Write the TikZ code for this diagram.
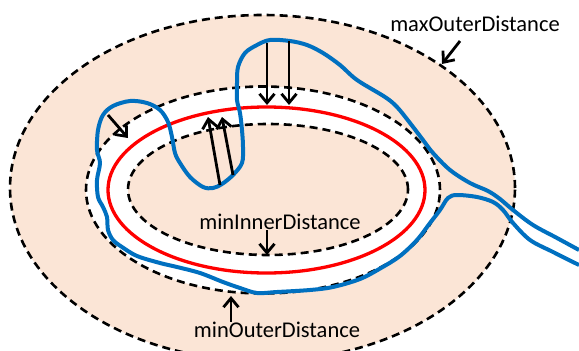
\documentclass[tikz,border=0pt]{standalone}
\usepackage{fontspec}
\setmainfont{Carlito}
\usetikzlibrary{arrows.meta}
\definecolor{peach}{HTML}{FBE5D6}
\definecolor{pathblue}{HTML}{0070C0}

\begin{document}
\begin{tikzpicture}[x=1pt,y=-1pt,
  bound/.style={line width=2.6pt, dash pattern=on 8pt off 5pt},
  gap/.style={line width=2.8pt, -{Straight Barb[length=9pt,width=15pt]}},
  lbl/.style={font=\fontsize{22.5}{27}\selectfont, inner sep=0pt}]
\useasboundingbox (0,0) rectangle (579,351);
% zones
\fill[peach] (262.5,188) ellipse [x radius=252.5pt, y radius=173pt];
\fill[white] (263,190) ellipse [x radius=177pt, y radius=103.5pt];
\fill[peach] (268,189.5) ellipse [x radius=140pt, y radius=65.5pt];
% distance bounds
\draw[bound] (262.5,188) ellipse [x radius=252.5pt, y radius=173pt];
\draw[bound] (263,190) ellipse [x radius=177pt, y radius=103.5pt];
\draw[bound] (268,189.5) ellipse [x radius=140pt, y radius=65.5pt];
% reference contour
\draw[red, line width=3.3pt] (266.5,190) ellipse [x radius=158.5pt, y radius=83pt];
% measured contour
\draw[pathblue, line width=4pt, line join=round] plot[smooth, tension=0.55] coordinates {
  (579,250) (557,238) (533,225) (513,210) (500,199) (488,191) (470,183) (450,170)
  (433,153) (423,140) (410,123) (397,107) (385,97) (357,80) (340,65) (323,53)
  (307,45) (290,41) (270,40) (257,45) (245,53) (238,67) (237,83) (237,100)
  (240,113) (242,130) (243,147) (242,163) (233,175) (222,184) (213,188) (203,187)
  (190,177) (180,163) (175,153) (172,137) (168,122) (160,110) (147,103) (130,101)
  (113,106) (103,115) (98,130) (97,150) (100,163) (97,180) (98,197) (103,207)
  (107,217) (108,230) (113,240) (122,247) (137,256) (160,263) (177,267) (200,273)
  (223,282) (240,288) (257,293) (277,292) (310,290) (333,287) (360,279) (381,268)
  (400,256) (417,240) (430,223) (440,210) (448,198) (457,195) (477,197) (493,202)
  (503,210) (513,223) (530,240) (553,252) (579,265)};
% labels
\node[lbl] (maxlbl) at (475,24) {maxOuterDistance};
\node[lbl] (inlbl) at (280,222) {minInnerDistance};
\node[lbl] (outlbl) at (277,330) {minOuterDistance};
\coordinate (maxtip) at (442,64);
\coordinate (intip) at (267,255);
\coordinate (outtip) at (231,296);
\draw[gap] ([shift={(-15,9)}]maxlbl.south) -- (maxtip);
\draw[gap] (inlbl.south -| intip) -- (intip);
\draw[gap] (outlbl.north -| outtip) -- (outtip);
% deviations
\coordinate (p1) at (267,43);  \coordinate (q1) at (267,105);
\coordinate (p2) at (289,41);  \coordinate (q2) at (289,105);
\coordinate (p3) at (220,185); \coordinate (q3) at (208,117);
\coordinate (p4) at (233,175); \coordinate (q4) at (222,117);
\coordinate (p5) at (108,115); \coordinate (q5) at (128,138);
\foreach \i in {1,...,5} \draw[gap] (p\i) -- (q\i);
\end{tikzpicture}
\end{document}
